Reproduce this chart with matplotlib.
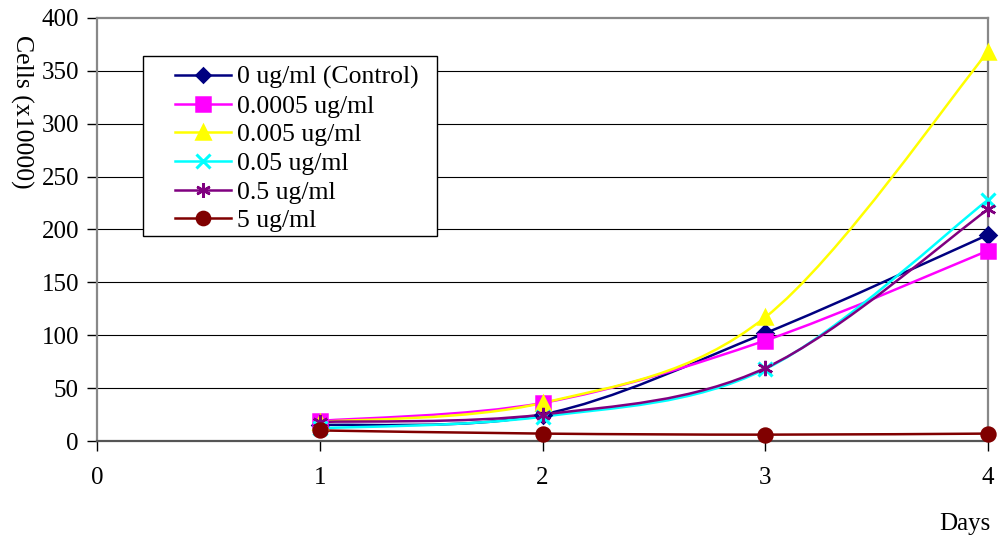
import matplotlib.pyplot as plt
import numpy as np
from matplotlib.path import Path
from matplotlib.patches import PathPatch, Rectangle

plt.rcParams['font.family'] = ['Liberation Serif', 'DejaVu Serif']

# data
days = [1, 2, 3, 4]
labels = ['0 ug/ml (Control)', '0.0005 ug/ml', '0.005 ug/ml',
          '0.05 ug/ml', '0.5 ug/ml', '5 ug/ml']
control = [15, 25, 102, 195]
c_0005 = [19, 36, 95, 180]
c_005 = [18, 36, 117, 368]
c_05 = [12, 23, 68, 228]
c_5e1 = [18, 25, 69, 219]
c_5 = [10, 7, 6, 7]
series = [control, c_0005, c_005, c_05, c_5e1, c_5]

colors = ['#000080', '#FF00FF', '#FFFF00', '#00FFFF', '#800080', '#800000']
markers = ['D', 's', '^', 'x', (6, 2, 0), 'o']
msizes = [8, 10, 10, 10, 11, 10]


def smooth_path(xs, ys):
    # Excel-style smoothed line: cubic bezier through points
    pts = np.column_stack([xs, ys]).astype(float)
    n = len(pts)
    verts = [pts[0]]
    codes = [Path.MOVETO]
    for i in range(n - 1):
        p0 = pts[i - 1] if i > 0 else pts[i]
        p1 = pts[i]
        p2 = pts[i + 1]
        p3 = pts[i + 2] if i + 2 < n else pts[i + 1]
        verts += [p1 + (p2 - p0) / 6, p2 - (p3 - p1) / 6, p2]
        codes += [Path.CURVE4] * 3
    return Path(verts, codes)


fig = plt.figure(figsize=(9.99, 5.43), dpi=100)
ax = fig.add_axes([97 / 999, 102 / 543, 891 / 999, 423 / 543])

for ys, lab, col, mk, ms in zip(series, labels, colors, markers, msizes):
    mw = 2.2 if mk == 'x' else 1.8
    ax.add_patch(PathPatch(smooth_path(days, ys), facecolor='none',
                           edgecolor=col, lw=1.8, zorder=3, clip_on=False))
    ax.plot(days, ys, ls='none', marker=mk, color=col, ms=ms, mew=mw,
            zorder=4, clip_on=False)
    ax.plot([], [], color=col, lw=1.8, marker=mk, ms=ms * 0.95, label=lab,
            mew=mw)

ax.set_xlim(0, 4)
ax.set_ylim(0, 400)
ax.set_xticks([0, 1, 2, 3, 4])
ax.set_yticks(range(0, 401, 50))
for y in range(50, 400, 50):
    ax.axhline(y, color='black', lw=0.8, zorder=1)

for s in ['top', 'right', 'left']:
    ax.spines[s].set_color('#888888')
    ax.spines[s].set_linewidth(1.6)
ax.spines['bottom'].set_color('#555555')
ax.spines['bottom'].set_linewidth(1.6)

ax.tick_params(axis='both', direction='out', length=7, width=1,
               labelsize=18, color='black')
ax.tick_params(axis='x', pad=12)
ax.tick_params(axis='y', pad=6)

fig.text(22 / 999, 1 - 112 / 543, 'Cells (x10000)', rotation=270,
         ha='center', va='center', fontsize=18.5)
fig.text(965 / 999, 1 - 524 / 543, 'Days', ha='center', va='center',
         fontsize=18)

# legend box drawn separately so the padding matches the original
ax.add_patch(Rectangle((0.0516, 0.4846), 0.33, 0.4255, transform=ax.transAxes,
                       facecolor='white', edgecolor='black', lw=1.0,
                       zorder=5, clip_on=False))
leg = ax.legend(loc='upper left', bbox_to_anchor=(0.0875, 0.887),
                fontsize=18.5, frameon=False,
                handlelength=2.2, handletextpad=0.2, labelspacing=0.22,
                borderpad=0, borderaxespad=0)
leg.set_zorder(6)

fig.savefig('out.png', dpi=100)
